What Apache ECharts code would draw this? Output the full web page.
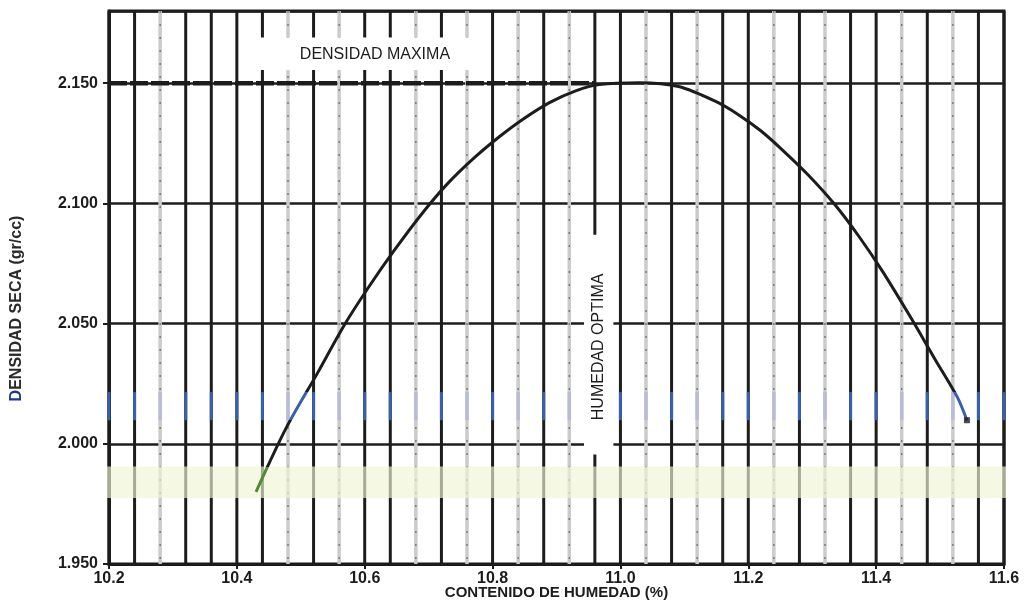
<!DOCTYPE html>
<html>
<head>
<meta charset="utf-8">
<script src="https://cdn.jsdelivr.net/npm/echarts@6/dist/echarts.min.js"></script>
<style>
  html, body { margin: 0; padding: 0; background: #fff; }
  #chart { width: 1029px; height: 601px; }
</style>
</head>
<body>
<div id="chart"></div>
<script>
// Proctor compaction curve: dry density against moisture content
const moisture = [10.430, 10.477, 10.527, 10.567, 10.606, 10.645, 10.691, 10.730, 10.772, 10.811,
                  10.847, 10.889, 10.931, 10.967, 11.029, 11.091, 11.149, 11.184, 11.219, 11.251,
                  11.293, 11.335, 11.374, 11.410, 11.453, 11.492, 11.527, 11.542];
const dryDensity = [1.980, 2.0065, 2.0298, 2.0489, 2.0651, 2.0800, 2.0962, 2.1083, 2.1191, 2.1278,
                    2.1349, 2.1419, 2.1469, 2.1494, 2.1502, 2.1486, 2.1424, 2.1370, 2.1303, 2.1228,
                    2.1120, 2.0996, 2.0859, 2.0717, 2.0530, 2.0352, 2.0194, 2.0098];
const xTickValues = [10.2, 10.4, 10.6, 10.8, 11.0, 11.2, 11.4, 11.6];
const yTickValues = [1.950, 2.000, 2.050, 2.100, 2.150];
const maxDensity = 2.150;
const maxDensityLineX = [10.2, 10.96];
const optimumMoisture = 10.966;

const xMin = xTickValues[0], xMax = xTickValues[xTickValues.length - 1];
const yMin = yTickValues[0], yMax = 2.18;

// fine vertical ruling of the graph paper (index 0 and last are the frame)
const rulingStep = 0.04;
const rulingCount = Math.round((xMax - xMin) / rulingStep);
const rulings = [];
for (let i = 0; i <= rulingCount; i++) rulings.push([+(xMin + i * rulingStep).toFixed(3), yMin, i]);
const faintRulings = new Set([2, 7, 9, 12, 14, 16, 18, 21, 23, 26, 28, 31, 33]);

// coloured strips of the printed sheet
const blueStrip = [2.0098, 2.0215];
const greenStrip = [1.9775, 1.9905];

const FONT = '"Liberation Sans", Arial, Helvetica, sans-serif';
const INK = '#1c1c1c';

const chart = echarts.init(document.getElementById('chart'), null, { renderer: 'canvas' });

const option = {
  animation: false,
  backgroundColor: '#ffffff',
  grid: { left: 109, right: 25, top: 11, bottom: 37, containLabel: false, outerBoundsMode: 'none',
          show: true, borderColor: INK, borderWidth: 3, backgroundColor: 'transparent' },
  xAxis: {
    type: 'value', min: xMin, max: xMax, interval: 0.2,
    name: 'CONTENIDO DE HUMEDAD (%)', nameLocation: 'middle', nameGap: 21, nameMoveOverlap: false,
    nameTextStyle: { fontFamily: FONT, fontWeight: 'bold', fontSize: 15, color: INK },
    axisLine: { show: true, lineStyle: { color: INK, width: 3 } },
    axisTick: { show: true, length: 5, lineStyle: { color: INK, width: 2 } },
    axisLabel: { fontFamily: FONT, fontWeight: 'bold', fontSize: 16, color: INK, margin: 7,
                 formatter: v => (+v).toFixed(1) },
    splitLine: { show: false }
  },
  yAxis: {
    type: 'value', min: yMin, max: yMax, interval: 0.05,
    axisLine: { show: true, lineStyle: { color: INK, width: 3 } },
    axisTick: { show: true, length: 6, lineStyle: { color: INK, width: 2 } },
    axisLabel: { fontFamily: FONT, fontWeight: 'bold', fontSize: 16, color: INK, margin: 11,
                 showMaxLabel: false, formatter: v => (+v).toFixed(3) },
    splitLine: { show: true, lineStyle: { color: INK, width: 2.5 } }
  },
  visualMap: {
    type: 'piecewise', show: false, seriesIndex: 3, dimension: 1,
    pieces: [
      { lt: greenStrip[1], color: '#4f8c35' },
      { gte: greenStrip[1], lt: blueStrip[0], color: INK },
      { gte: blueStrip[0], lte: blueStrip[1], color: '#3a60a8' },
      { gt: blueStrip[1], color: INK }
    ]
  },
  series: [
    {
      // vertical rulings
      type: 'custom', coordinateSystem: 'cartesian2d', z: 1, silent: true, clip: false,
      data: rulings,
      renderItem: (params, api) => {
        const x = api.value(0);
        const i = api.value(2);
        const top = api.coord([x, yMax]);
        const bot = api.coord([x, yMin]);
        const b0 = api.coord([x, blueStrip[0]]);
        const b1 = api.coord([x, blueStrip[1]]);
        const faint = faintRulings.has(i);
        const children = [];
        if (faint) {
          children.push({ type: 'line', shape: { x1: top[0], y1: top[1], x2: bot[0], y2: bot[1] },
                          style: { stroke: '#cbcbcb', lineWidth: 3.5 } });
          children.push({ type: 'line', shape: { x1: top[0], y1: top[1], x2: bot[0], y2: bot[1] },
                          style: { stroke: '#707070', lineWidth: 1.3, lineDash: [2, 11] } });
          children.push({ type: 'line', shape: { x1: b1[0], y1: b1[1], x2: b0[0], y2: b0[1] },
                          style: { stroke: '#b9bcd6', lineWidth: 3.5 } });
        } else {
          children.push({ type: 'line', shape: { x1: top[0], y1: top[1], x2: bot[0], y2: bot[1] },
                          style: { stroke: INK, lineWidth: 3 } });
          children.push({ type: 'line', shape: { x1: b1[0], y1: b1[1], x2: b0[0], y2: b0[1] },
                          style: { stroke: '#3a60a8', lineWidth: 3 } });
        }
        return { type: 'group', children };
      }
    },
    {
      // pale green printed strip
      type: 'custom', coordinateSystem: 'cartesian2d', z: 2, silent: true, clip: false,
      data: [[xMin, greenStrip[0]]],
      renderItem: (params, api) => {
        const a = api.coord([xMin, greenStrip[1]]);
        const b = api.coord([xMax, greenStrip[0]]);
        return { type: 'rect', shape: { x: a[0] - 2, y: a[1], width: b[0] - a[0] + 4, height: b[1] - a[1] },
                 style: { fill: 'rgba(240,246,214,0.66)' } };
      }
    },
    {
      // maximum dry density reference line
      type: 'line', z: 3, silent: true, symbol: 'none',
      data: maxDensityLineX.map(x => [x, maxDensity]),
      lineStyle: { color: INK, width: 4.5, type: [18, 3] }
    },
    {
      // compaction curve
      type: 'line', z: 4, smooth: 0.3, symbol: 'none', silent: true,
      data: moisture.map((m, k) => [m, dryDensity[k]]),
      lineStyle: { width: 3 }
    },
    {
      // end mark of the curve
      type: 'scatter', z: 5, silent: true, symbol: 'rect',
      data: [[moisture[moisture.length - 1], dryDensity[dryDensity.length - 1]]],
      symbolSize: 6, itemStyle: { color: INK }
    }
  ]
};

chart.setOption(option);

const px = (x, y) => chart.convertToPixel({ gridIndex: 0 }, [x, y]);
const maxBoxA = px(10.428, 2.1690), maxBoxB = px(10.797, 2.1555);
const maxTxt = px(10.616, 2.1617);
const optBoxA = px(10.943, 2.0869), optBoxB = px(10.989, 1.9955);
const optTxt = px(optimumMoisture, 2.0403);
const yNameY = (px(xMin, yMin)[1] + px(xMin, yMax)[1]) / 2 + 21;

chart.setOption({
  graphic: [
    { type: 'rect', z: 50, silent: true,
      shape: { x: maxBoxA[0], y: maxBoxA[1], width: maxBoxB[0] - maxBoxA[0], height: maxBoxB[1] - maxBoxA[1] },
      style: { fill: '#ffffff' } },
    { type: 'text', z: 51, silent: true, x: maxTxt[0], y: maxTxt[1],
      style: { text: 'DENSIDAD MAXIMA', fill: INK, fontFamily: FONT, fontSize: 16,
               align: 'center', verticalAlign: 'middle' } },
    { type: 'rect', z: 50, silent: true,
      shape: { x: optBoxA[0], y: optBoxA[1], width: optBoxB[0] - optBoxA[0], height: optBoxB[1] - optBoxA[1] },
      style: { fill: '#ffffff' } },
    { type: 'text', z: 51, silent: true, x: optTxt[0], y: optTxt[1], rotation: Math.PI / 2,
      style: { text: 'HUMEDAD OPTIMA', fill: INK, fontFamily: FONT, fontSize: 16,
               align: 'center', verticalAlign: 'middle' } },
    { type: 'text', z: 51, silent: true, x: 17, y: yNameY, rotation: Math.PI / 2,
      style: { text: '{d|D}{r|ENSIDAD SECA (gr/cc)}', align: 'center', verticalAlign: 'middle',
               fontFamily: FONT, fontSize: 16, fontWeight: 'bold',
               rich: { d: { fill: '#1b3a8c', fontFamily: FONT, fontSize: 16, fontWeight: 'bold' },
                       r: { fill: '#2a2a2a', fontFamily: FONT, fontSize: 16, fontWeight: 'bold' } } } }
  ]
});
</script>
</body>
</html>
